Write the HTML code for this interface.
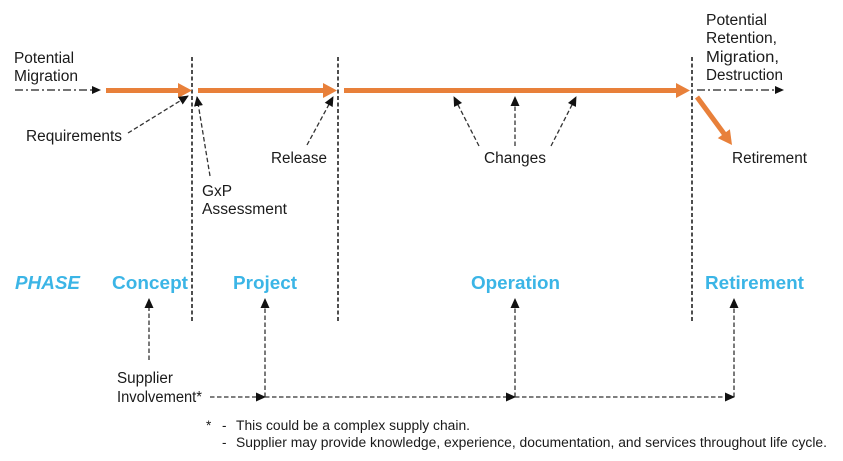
<!DOCTYPE html>
<html><head><meta charset="utf-8"><style>
html,body{margin:0;padding:0;background:#fff;}
svg{display:block;}
text{font-family:"Liberation Sans",Arial,sans-serif;fill:#1a1a1a;}
.l{font-size:15.5px;}
.p{font-size:18.5px;font-weight:bold;fill:#3bb5e6;}
.f{font-size:13.5px;}
</style></head><body>
<svg width="843" height="461" viewBox="0 0 843 461" xmlns="http://www.w3.org/2000/svg">
<defs>
<marker id="ah" markerUnits="userSpaceOnUse" markerWidth="10" markerHeight="10" viewBox="0 0 10 10" refX="9" refY="5" orient="auto">
<path d="M0,0.5 L10,5 L0,9.5 z" fill="#111"/>
</marker>
</defs>

<!-- vertical phase separators -->
<g stroke="#222" stroke-width="1.6" stroke-dasharray="4 2.5" fill="none">
<line x1="192" y1="57" x2="192" y2="323"/>
<line x1="338" y1="57" x2="338" y2="323"/>
<line x1="692" y1="57" x2="692" y2="323"/>
</g>

<!-- orange arrows -->
<g fill="#e8803a" stroke="none">
<rect x="106" y="88" width="73" height="5"/>
<polygon points="178,83 192,90.5 178,98"/>
<rect x="198" y="88" width="126" height="5"/>
<polygon points="323,83 337,90.5 323,98"/>
<rect x="344" y="88" width="333" height="5"/>
<polygon points="676,83 690,90.5 676,98"/>
<polygon points="717.8,138.1 732,145 729.9,129.3"/>
</g>
<line x1="697" y1="97" x2="725" y2="135" stroke="#e8803a" stroke-width="5"/>

<!-- dash-dot arrows -->
<g stroke="#222" stroke-width="1.3" stroke-dasharray="8 3 2 3" fill="none">
<line x1="15" y1="90" x2="93" y2="90"/>
<line x1="697" y1="90" x2="776" y2="90"/>
</g>
<polygon points="92,86 101,90 92,94" fill="#111"/>
<polygon points="775,86 784,90 775,94" fill="#111"/>

<!-- dashed thin arrows -->
<g stroke="#333" stroke-width="1.3" stroke-dasharray="4.5 2.5" fill="none" marker-end="url(#ah)">
<line x1="128" y1="133" x2="188" y2="96"/>
<line x1="210" y1="176" x2="197" y2="97"/>
<line x1="307" y1="145" x2="333" y2="97"/>
<line x1="479" y1="146" x2="454" y2="97"/>
<line x1="515" y1="146" x2="515" y2="97"/>
<line x1="551" y1="146" x2="576" y2="97"/>
<line x1="149" y1="360" x2="149" y2="299"/>
<line x1="265" y1="397" x2="265" y2="299"/>
<line x1="515" y1="397" x2="515" y2="299"/>
<line x1="734" y1="397" x2="734" y2="299"/>
<line x1="210" y1="397" x2="265" y2="397"/>
<line x1="265" y1="397" x2="515" y2="397"/>
<line x1="515" y1="397" x2="734" y2="397"/>
</g>

<!-- labels -->
<text class="l" x="14" y="63" textLength="60" lengthAdjust="spacingAndGlyphs">Potential</text>
<text class="l" x="14" y="81" textLength="64" lengthAdjust="spacingAndGlyphs">Migration</text>
<text class="l" x="26" y="141" textLength="96" lengthAdjust="spacingAndGlyphs">Requirements</text>
<text class="l" x="202" y="196" textLength="30" lengthAdjust="spacingAndGlyphs">GxP</text>
<text class="l" x="202" y="214" textLength="85" lengthAdjust="spacingAndGlyphs">Assessment</text>
<text class="l" x="271" y="163" textLength="56" lengthAdjust="spacingAndGlyphs">Release</text>
<text class="l" x="484" y="163" textLength="62" lengthAdjust="spacingAndGlyphs">Changes</text>
<text class="l" x="706" y="25" textLength="61" lengthAdjust="spacingAndGlyphs">Potential</text>
<text class="l" x="706" y="43" textLength="71" lengthAdjust="spacingAndGlyphs">Retention,</text>
<text class="l" x="706" y="62" textLength="73" lengthAdjust="spacingAndGlyphs">Migration,</text>
<text class="l" x="706" y="80" textLength="77" lengthAdjust="spacingAndGlyphs">Destruction</text>
<text class="l" x="732" y="163" textLength="75" lengthAdjust="spacingAndGlyphs">Retirement</text>

<text class="p" x="15" y="289" font-style="italic" textLength="65" lengthAdjust="spacingAndGlyphs">PHASE</text>
<text class="p" x="112" y="289" textLength="76" lengthAdjust="spacingAndGlyphs">Concept</text>
<text class="p" x="233" y="289" textLength="64" lengthAdjust="spacingAndGlyphs">Project</text>
<text class="p" x="471" y="289" textLength="89" lengthAdjust="spacingAndGlyphs">Operation</text>
<text class="p" x="705" y="289" textLength="99" lengthAdjust="spacingAndGlyphs">Retirement</text>

<text class="l" x="117" y="383" textLength="56" lengthAdjust="spacingAndGlyphs">Supplier</text>
<text class="l" x="117" y="402" textLength="85" lengthAdjust="spacingAndGlyphs">Involvement*</text>

<text class="f" x="206" y="430">*</text>
<text class="f" x="222" y="430">-</text>
<text class="f" x="236" y="430" textLength="234" lengthAdjust="spacingAndGlyphs">This could be a complex supply chain.</text>
<text class="f" x="222" y="447">-</text>
<text class="f" x="236" y="447" textLength="591" lengthAdjust="spacingAndGlyphs">Supplier may provide knowledge, experience, documentation, and services throughout life cycle.</text>
</svg>
</body></html>
